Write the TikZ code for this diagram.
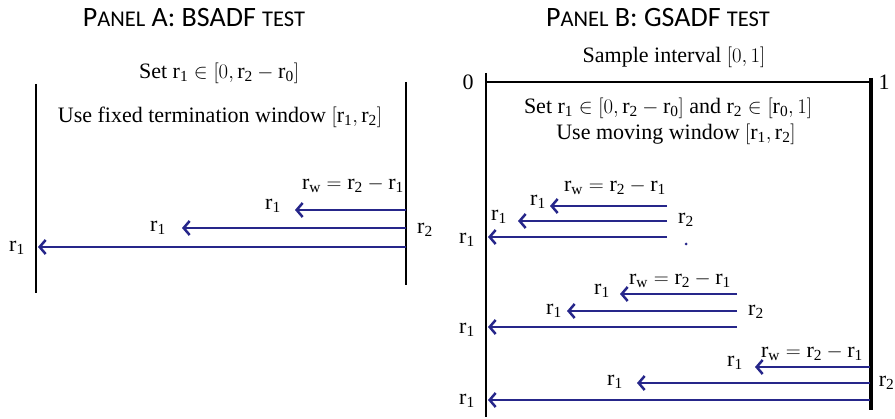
\documentclass[tikz,border=0pt]{standalone}
\usepackage{fontspec}
\setmainfont{Liberation Serif}
\newfontfamily\titlefont{Carlito}
\usetikzlibrary{arrows.meta}
\definecolor{navy}{RGB}{38,38,138}
\newcommand{\rv}[1]{\mathrm{r}_{\mathrm{#1}}}
\newcommand{\smc}[1]{{\fontsize{22.5}{24}\selectfont #1}}
\begin{document}
\begin{tikzpicture}[x=1pt,y=-1pt,
  txt/.style={inner sep=0pt, font=\fontsize{22}{24}\selectfont},
  ttl/.style={inner sep=0pt, font=\titlefont\fontsize{28}{30}\selectfont},
  wall/.style={line width=2.6pt, black},
  thickwall/.style={line width=3.4pt, black},
  warr/.style={navy, line width=2.5pt, -{Straight Barb[length=6pt,width=14pt]}},
  topline/.style={line width=1.6pt, black},
  dotb/.style={circle, fill=navy, inner sep=0pt, minimum size=3pt}]
\fill[white] (0,0) rectangle (895,419);
\useasboundingbox (0,0) rectangle (895,419);

% ---------------- Panel A ----------------
\node[ttl] (tA) at (194,18) {P\smc{ANEL} A: BSADF \smc{TEST}};
\node[txt] (setA) at (219,73) {Set $\rv1\in\bigl[0,\rv2-\rv0\bigr]$};
\node[txt] (useA) at (220,117) {Use fixed termination window $\bigl[\rv1,\rv2\bigr]$};

\coordinate (aLt) at (36,84);  \coordinate (aLb) at (36,293);
\coordinate (aRt) at (406,82); \coordinate (aRb) at (406,285);
\draw[wall] (aLt) -- (aLb);
\draw[wall] (aRt) -- (aRb);

\node[txt, anchor=east] (rwA) at (404,185) {$\rv{w}=\rv2-\rv1$};
\coordinate (aT1) at (406,210); \coordinate (aH1) at (295,210);
\coordinate (aT2) at (406,228); \coordinate (aH2) at (182,228);
\coordinate (aT3) at (406,247); \coordinate (aH3) at (38,247);
\draw[warr] (aT1) -- (aH1);
\draw[warr] (aT2) -- (aH2);
\draw[warr] (aT3) -- (aH3);
\node[txt] (aL1) at (273,206) {$\rv1$};
\node[txt] (aL2) at (158,228) {$\rv1$};
\node[txt] (aL3) at (17,248) {$\rv1$};
\node[txt] (aR2) at (425,230) {$\rv2$};

% ---------------- Panel B ----------------
\node[ttl] (tB) at (658,18) {P\smc{ANEL} B: GSADF \smc{TEST}};
\node[txt] (samp) at (674,57) {Sample interval $\bigl[0,1\bigr]$};
\node[txt] (zero) at (468,82) {0};
\node[txt] (one) at (884,82) {1};

\coordinate (bLt) at (486,73);  \coordinate (bLb) at (486,417);
\coordinate (bRt) at (871,78);  \coordinate (bRb) at (871,410);
\coordinate (bHl) at (486,82);  \coordinate (bHr) at (871,82);
\draw[topline] (bHl) -- (bHr);
\draw[wall] (bLt) -- (bLb);
\draw[thickwall] (bRt) -- (bRb);

\node[txt] (setB) at (668,108) {Set $\rv1\in\bigl[0,\rv2-\rv0\bigr]$ and $\rv2\in\bigl[\rv0,1\bigr]$};
\node[txt] (useB) at (676,134) {Use moving window $\bigl[\rv1,\rv2\bigr]$};

% group 1
\node[txt] (rw1) at (615,187) {$\rv{w}=\rv2-\rv1$};
\coordinate (p1T1) at (667,206); \coordinate (p1H1) at (550,206);
\coordinate (p1T2) at (667,221); \coordinate (p1H2) at (518,221);
\coordinate (p1T3) at (667,237); \coordinate (p1H3) at (488,237);
\draw[warr] (p1T1) -- (p1H1);
\draw[warr] (p1T2) -- (p1H2);
\draw[warr] (p1T3) -- (p1H3);
\node[txt] (g1L1) at (538,202) {$\rv1$};
\node[txt] (g1L2) at (499,217) {$\rv1$};
\node[txt] (g1L3) at (467,240) {$\rv1$};
\node[txt] (g1R) at (686,220) {$\rv2$};
\node[dotb] (g1dot) at (686,244) {};

% group 2
\node[txt] (rw2) at (680,280) {$\rv{w}=\rv2-\rv1$};
\coordinate (p2T1) at (737,294); \coordinate (p2H1) at (620,294);
\coordinate (p2T2) at (737,311); \coordinate (p2H2) at (567,311);
\coordinate (p2T3) at (737,327); \coordinate (p2H3) at (488,327);
\draw[warr] (p2T1) -- (p2H1);
\draw[warr] (p2T2) -- (p2H2);
\draw[warr] (p2T3) -- (p2H3);
\node[txt] (g2L1) at (602,291) {$\rv1$};
\node[txt] (g2L2) at (554,311) {$\rv1$};
\node[txt] (g2L3) at (467,330) {$\rv1$};
\node[txt] (g2R) at (756,312) {$\rv2$};

% group 3
\node[txt] (rw3) at (812,353) {$\rv{w}=\rv2-\rv1$};
\coordinate (p3T1) at (870,367); \coordinate (p3H1) at (755,367);
\coordinate (p3T2) at (870,383); \coordinate (p3H2) at (637,383);
\coordinate (p3T3) at (870,400); \coordinate (p3H3) at (488,400);
\draw[warr] (p3T1) -- (p3H1);
\draw[warr] (p3T2) -- (p3H2);
\draw[warr] (p3T3) -- (p3H3);
\node[txt] (g3L1) at (735,363) {$\rv1$};
\node[txt] (g3L2) at (615,382) {$\rv1$};
\node[txt] (g3L3) at (467,401) {$\rv1$};
\node[txt, anchor=east] (g3R) at (894.5,383) {$\rv2$};
\end{tikzpicture}
\end{document}
